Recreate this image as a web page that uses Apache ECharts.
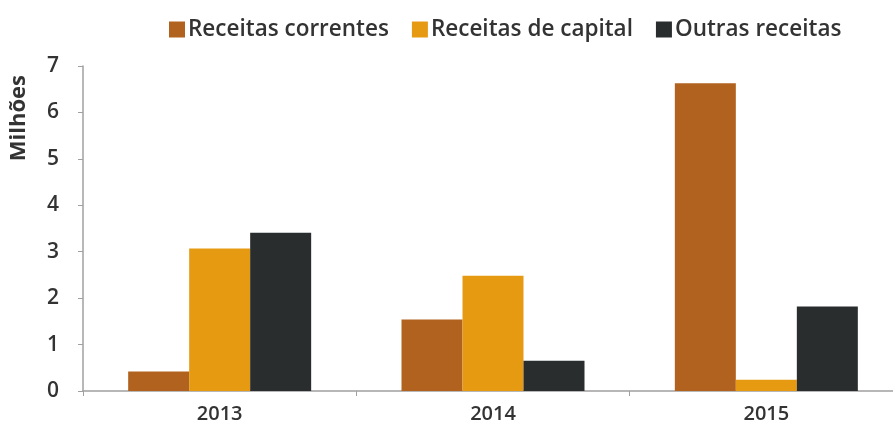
<!DOCTYPE html>
<html>
<head>
<meta charset="utf-8">
<script src="https://cdn.jsdelivr.net/npm/echarts@6/dist/echarts.min.js"></script>
<style>
  html, body { margin: 0; padding: 0; background: #fff; }
  #main { width: 893px; height: 434px; }
</style>
</head>
<body>
<div id="main"></div>
<script>
// dados (milhões)
var anos = ['2013', '2014', '2015'];
var receitasCorrentes = [0.42, 1.54, 6.63];
var receitasCapital = [3.07, 2.48, 0.24];
var outrasReceitas = [3.41, 0.65, 1.82];
var nomesSeries = ['Receitas correntes', 'Receitas de capital', 'Outras receitas'];
var cores = ['#B2621F', '#E69A12', '#2A2D2E'];

var fonte = '"Open Sans", sans-serif';
var chartDom = document.getElementById('main');
var myChart = echarts.init(chartDom);

function serie(nome, dados, cor) {
  return {
    name: nome,
    type: 'bar',
    data: dados,
    barWidth: 61,
    barGap: '0%',
    itemStyle: { color: cor }
  };
}

myChart.setOption({
  animation: false,
  color: cores,
  legend: {
    top: 13,
    left: 164,
    itemWidth: 16,
    itemHeight: 16,
    itemGap: 23,
    icon: 'rect',
    textStyle: { fontFamily: fonte, fontSize: 22.5, fontWeight: 600, color: '#333', padding: [0, 0, 0, -2] },
    data: nomesSeries
  },
  grid: { left: 83, width: 820, top: 66, bottom: 43, outerBoundsMode: 'none', containLabel: false },
  xAxis: {
    type: 'category',
    data: anos,
    axisLine: { lineStyle: { color: '#a0a0a0', width: 1.5 } },
    axisTick: { show: true, length: 5, lineStyle: { color: '#a0a0a0' } },
    axisLabel: { fontFamily: fonte, fontSize: 20, fontWeight: 600, color: '#333', margin: 13 }
  },
  yAxis: {
    type: 'value',
    min: 0,
    max: 7,
    interval: 1,
    splitLine: { show: false },
    axisLine: { show: true, lineStyle: { color: '#a0a0a0', width: 1.5 } },
    axisTick: { show: true, length: 5, lineStyle: { color: '#a0a0a0' } },
    axisLabel: { fontFamily: fonte, fontSize: 21, fontWeight: 600, color: '#333', margin: 24 }
  },
  graphic: [{
    type: 'text',
    left: 8,
    top: 75,
    rotation: Math.PI / 2,
    style: {
      text: 'Milhões',
      fontFamily: fonte,
      fontSize: 22,
      fontWeight: 700,
      fill: '#333'
    }
  }],
  series: [
    serie(nomesSeries[0], receitasCorrentes, cores[0]),
    serie(nomesSeries[1], receitasCapital, cores[1]),
    serie(nomesSeries[2], outrasReceitas, cores[2])
  ]
});
</script>
</body>
</html>
